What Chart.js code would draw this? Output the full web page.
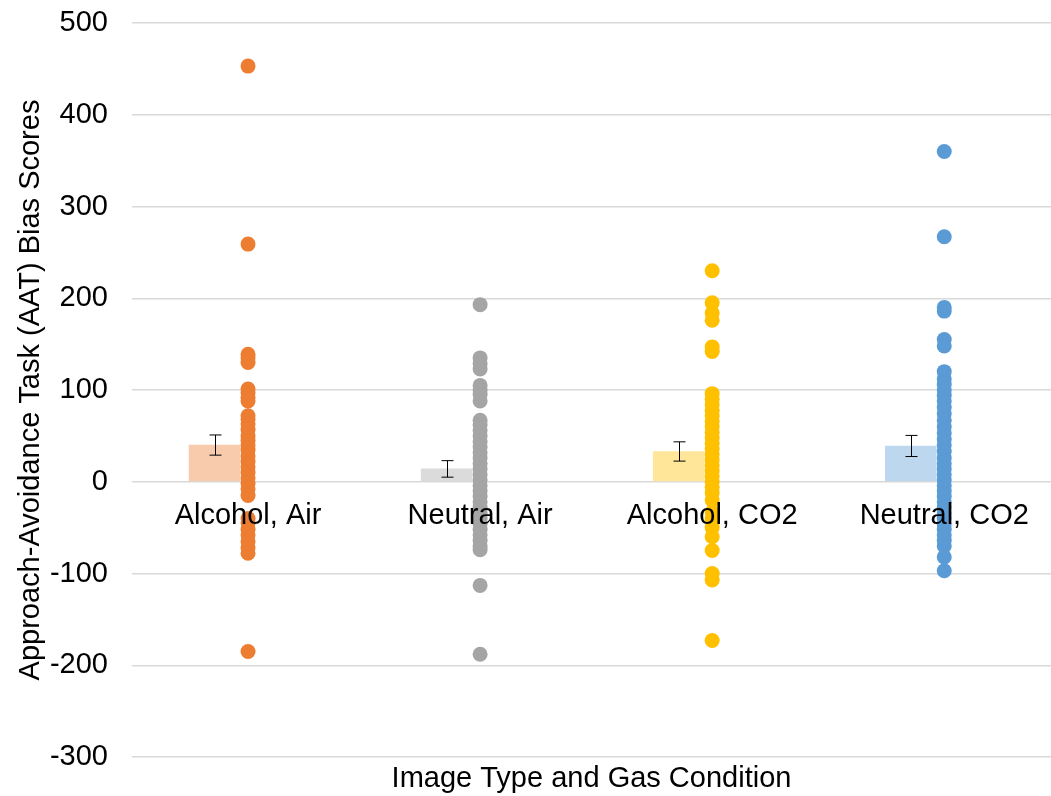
<!DOCTYPE html>
<html>
<head>
<meta charset="utf-8">
<script src="https://cdn.jsdelivr.net/npm/chart.js@4/dist/chart.umd.min.js"></script>
<style>
  html, body { margin: 0; padding: 0; background: #fff; }
  #wrap { width: 1051px; height: 796px; }
</style>
</head>
<body>
<div id="wrap"><canvas id="aatChart"></canvas></div>
<script>
const categories = ["Alcohol, Air", "Neutral, Air", "Alcohol, CO2", "Neutral, CO2"]
const meanScores = [40, 14, 33, 39]
const stdErrors = [11, 9, 10.5, 11.5]

const alcoholAir = [453, 259, 139, 135, 130, 101, 97, 92, 88, 72, 68, 63, 57, 50, 45, 40, 35, 28, 22, 16, 10, 4, -2, -8, -15,
    -40, -45, -52, -58, -65, -72, -78, -185]
const neutralAir = [193, 135, 129, 123, 105, 100, 95, 88, 67, 62, 56, 50, 44, 38, 32, 26, 20, 14, 8, 2, -4, -10, -16,
    -22, -28, -34, -40, -46, -52, -58, -64, -70, -74, -113, -188]
const alcoholCO2 = [230, 195, 184, 176, 147, 142, 96, 90, 84, 78, 72, 66, 60, 54, 48, 42, 36, 30, 24, 18, 12, 6, 0, -6,
    -12, -20, -33, -40, -50, -60, -75, -100, -107, -173]
const neutralCO2 = [360, 267, 190, 186, 155, 148, 120, 112, 106, 100, 94, 88, 81, 74, 67, 60, 53, 46, 40, 33, 26, 20,
    14, 8, 2, -4, -10, -16, -22, -28, -34, -40, -46, -52, -58, -64, -70, -82, -97]

const yTicks = [-300, -200, -100, 0, 100, 200, 300, 400, 500]

const allScores = [alcoholAir, neutralAir, alcoholCO2, neutralCO2]
const dotColors = ["#ED7D31", "#A5A5A5", "#FFC000", "#5B9BD5"]
const barColors = ["#F8CBAD", "#DBDBDB", "#FFE699", "#BDD7EE"]
const barShift = 0.144
const font = {family: "'Liberation Sans', Arial, sans-serif", size: 29}

// error bars drawn on top of the mean bars
const errorBars = {
    id: 'errorBars',
    afterDatasetsDraw(chart) {
        const ctx = chart.ctx
        const xs = chart.scales.x
        const ys = chart.scales.y
        ctx.save()
        ctx.strokeStyle = "#000"
        ctx.lineWidth = 1
        meanScores.forEach((m, i) => {
            const px = Math.round(xs.getPixelForValue(i + 1 - barShift)) + 0.5
            const top = ys.getPixelForValue(m + stdErrors[i])
            const bot = ys.getPixelForValue(m - stdErrors[i])
            ctx.beginPath()
            ctx.moveTo(px, top); ctx.lineTo(px, bot)
            ctx.moveTo(px - 6, top); ctx.lineTo(px + 6, top)
            ctx.moveTo(px - 6, bot); ctx.lineTo(px + 6, bot)
            ctx.stroke()
        })
        ctx.restore()
    }
}

const datasets = [{
    type: 'bar',
    data: meanScores.map((m, i) => ({x: i + 1 - barShift, y: m})),
    backgroundColor: barColors,
    barThickness: 51,
    order: 2
}]
allScores.forEach((scores, i) => {
    datasets.push({
        type: 'scatter',
        data: scores.map(v => ({x: i + 1, y: v})),
        backgroundColor: dotColors[i],
        borderWidth: 0,
        pointRadius: 7.5,
        pointHoverRadius: 7.5,
        order: 1
    })
})

new Chart(document.getElementById('aatChart'), {
    data: {datasets: datasets},
    plugins: [errorBars],
    options: {
        responsive: true,
        maintainAspectRatio: false,
        animation: false,
        layout: {autoPadding: false, padding: {top: 23, right: 0, left: 0, bottom: 0}},
        plugins: {legend: {display: false}, tooltip: {enabled: false}},
        scales: {
            x: {
                type: 'linear',
                position: {y: 0},
                min: 0.5,
                max: 4.46,
                offset: false,
                grid: {display: false, drawTicks: false},
                border: {display: false},
                afterBuildTicks: scale => { scale.ticks = categories.map((c, i) => ({value: i + 1})) },
                afterFit: scale => { scale.height = 0 },
                ticks: {
                    z: 1,
                    autoSkip: false,
                    maxRotation: 0,
                    padding: 17,
                    color: "#000",
                    font: font,
                    callback: v => categories[v - 1]
                }
            },
            x2: {
                type: 'linear',
                position: 'bottom',
                min: 0.5,
                max: 4.46,
                grid: {display: false, drawTicks: false},
                border: {display: false},
                ticks: {display: false},
                afterFit: scale => { scale.height = 39 },
                title: {
                    display: true,
                    text: "Image Type and Gas Condition",
                    color: "#000",
                    font: font,
                    padding: {top: 5, bottom: 0}
                }
            },
            y: {
                min: -300,
                max: 500,
                afterBuildTicks: scale => { scale.ticks = yTicks.map(v => ({value: v})) },
                afterFit: scale => {
                    scale.width = 132
                    scale.paddingTop = 0
                    scale.paddingBottom = 0
                },
                grid: {color: "#D9D9D9", lineWidth: 1.5, drawTicks: false},
                border: {display: false},
                ticks: {color: "#000", font: font, padding: 24},
                title: {
                    display: true,
                    text: "Approach-Avoidance Task (AAT) Bias Scores",
                    color: "#000",
                    font: font,
                    padding: {top: 14, bottom: 0}
                }
            }
        }
    }
})
</script>
</body>
</html>
